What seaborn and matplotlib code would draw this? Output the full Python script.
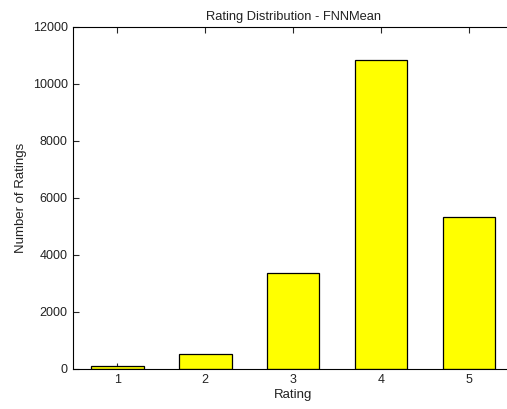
import pandas as pd
import seaborn as sns
import matplotlib.pyplot as plt

# values
ratings = [1, 2, 3, 4, 5]
counts = [80, 500, 3350, 10850, 5310]

df = pd.DataFrame({"Rating": ratings, "Count": counts})

sns.set_style("ticks")
plt.rcParams['font.family'] = ['Liberation Sans', 'DejaVu Sans']

fig = plt.figure(figsize=(5.07, 4.09), dpi=100)
ax = fig.add_axes([0.1446, 0.0985, 0.867, 0.836])

sns.barplot(x='Rating', y='Count', data=df, color='#ffff00', saturation=1,
            width=0.6, edgecolor='black', linewidth=0.9, ax=ax)

ax.set_xlim(-0.5, 4.5)
ax.set_ylim(0, 12000)
ax.set_yticks(range(0, 12001, 2000))
ax.set_title("Rating Distribution - FNNMean", fontsize=9.3, color='#222222', pad=5)
ax.set_xlabel("Rating", fontsize=9.5, color='#222222', labelpad=2)
ax.set_ylabel("Number of Ratings", fontsize=9.5, color='#222222', labelpad=4)

ax.tick_params(direction='in', length=4, width=0.8, labelsize=9,
               labelcolor='#222222', top=True, right=True, pad=4)
for s in ax.spines.values():
    s.set_visible(True)
    s.set_linewidth(0.8)
    s.set_color('black')

plt.savefig("out.png", dpi=100)
